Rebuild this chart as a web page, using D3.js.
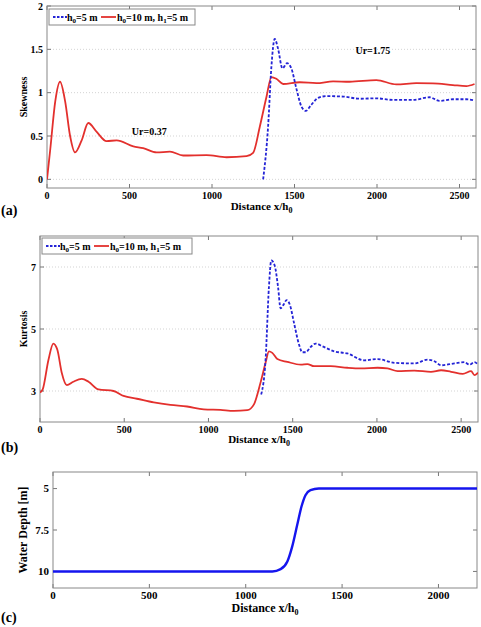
<!DOCTYPE html>
<html><head><meta charset="utf-8">
<script src="https://cdn.jsdelivr.net/npm/d3@7"></script>
<style>body{margin:0;background:#fff}svg{display:block}text{font-family:"Liberation Serif","Times New Roman",serif;font-weight:bold}</style>
</head><body><svg id="c" width="481" height="627"></svg>
<script>
// Skewness, h0=10 m, h1=5 m (red)
const skewRedX=[0,20,50,79,110,140,170,210,250,300,361,422,523,583,664,745,825,967,1088,1209,1249,1290,1330,1360,1390,1431,1532,1633,1734,1834,1996,2117,2238,2339,2460,2541,2591];
const skewRedY=[0,0.35,0.9,1.126,0.9,0.5,0.31,0.45,0.65,0.55,0.44,0.45,0.38,0.36,0.31,0.32,0.275,0.28,0.255,0.267,0.305,0.61,0.95,1.18,1.16,1.10,1.12,1.11,1.13,1.126,1.145,1.095,1.11,1.107,1.088,1.076,1.10];
// Skewness, h0=5 m (blue)
const skewBlueX=[1310,1340,1360,1380,1400,1427,1455,1481,1511,1542,1568,1602,1643,1693,1794,1895,1996,2097,2218,2319,2379,2460,2541,2591];
const skewBlueY=[0.0,0.61,1.30,1.62,1.51,1.28,1.34,1.28,1.05,0.84,0.79,0.86,0.94,0.96,0.955,0.93,0.935,0.916,0.916,0.947,0.905,0.924,0.924,0.91];
// Kurtosis red
const kurtRedX=[0,16,50,79,103,129,159,198,248,288,347,437,496,575,675,774,873,972,1071,1151,1230,1270,1309,1339,1359,1379,1409,1468,1548,1587,1627,1726,1825,1905,2004,2063,2123,2222,2321,2381,2440,2510,2559,2579,2600];
const kurtRedY=[2.95,3.05,4.0,4.53,4.33,3.59,3.19,3.30,3.39,3.30,3.05,3.0,2.84,2.75,2.63,2.55,2.50,2.41,2.39,2.36,2.38,2.57,3.27,3.91,4.28,4.23,4.03,3.94,3.85,3.87,3.80,3.80,3.75,3.73,3.75,3.73,3.64,3.66,3.62,3.67,3.62,3.55,3.64,3.51,3.59];
// Kurtosis blue
const kurtBlueX=[1313,1339,1359,1373,1393,1413,1428,1444,1464,1484,1508,1538,1557,1577,1607,1637,1677,1746,1825,1924,2004,2103,2222,2301,2341,2381,2460,2520,2549,2579,2600];
const kurtBlueY=[2.89,4.01,6.36,7.21,7.05,6.36,5.67,5.77,5.93,5.77,5.19,4.49,4.25,4.25,4.42,4.53,4.44,4.28,4.21,3.99,4.03,3.91,3.89,4.01,3.96,3.83,3.89,3.93,3.85,3.93,3.85];
// Water depth
const depthX=[0,500,1000,1138,1181,1216,1241,1267,1289,1310,1336,1379,1420,2200];
const depthY=[10,10,10,10,9.86,9.4,8.5,7.2,6.1,5.4,5.1,5.0,5.0,5.0];

const xTicksAB=[0,500,1000,1500,2000,2500];
const xTicksC=[0,500,1000,1500,2000];
const yTicksA=[0,0.5,1,1.5,2];
const yTicksB=[3,5,7];
const yTicksC=[5,7.5,10];

const RED="#e3302d", BLUE="#2424d6";
const svg=d3.select("#c");

function panel(o){
  const x=d3.scaleLinear().domain(o.xd).range([o.l,o.r]);
  const y=d3.scaleLinear().domain(o.yd).range([o.b,o.t]);
  const g=svg.append("g");
  if(o.grid){
    g.selectAll(".gl").data(o.yt.filter(v=>y(v)>o.t+1)).join("line")
      .attr("x1",o.l).attr("x2",o.r).attr("y1",d=>y(d)).attr("y2",d=>y(d))
      .attr("stroke","#c8c8c8").attr("stroke-width",0.8).attr("stroke-dasharray","1,2");
  }
  const tl=4;
  o.xt.forEach(v=>{
    g.append("line").attr("x1",x(v)).attr("x2",x(v)).attr("y1",o.b).attr("y2",o.b-tl).attr("stroke","#777");
    g.append("line").attr("x1",x(v)).attr("x2",x(v)).attr("y1",o.t).attr("y2",o.t+tl).attr("stroke","#777");
  });
  o.yt.forEach(v=>{
    g.append("line").attr("x1",o.l).attr("x2",o.l+tl).attr("y1",y(v)).attr("y2",y(v)).attr("stroke","#777");
    g.append("line").attr("x1",o.r).attr("x2",o.r-tl).attr("y1",y(v)).attr("y2",y(v)).attr("stroke","#777");
  });
  g.append("rect").attr("x",o.l).attr("y",o.t).attr("width",o.r-o.l).attr("height",o.b-o.t)
    .attr("fill","none").attr("stroke","#888").attr("stroke-width",1);
  const tfs=o.tfs||10;
  g.selectAll(".xl").data(o.xt).join("text").attr("x",d=>x(d)).attr("y",o.b+11)
    .attr("text-anchor","middle").attr("font-size",tfs).text(d=>d);
  g.selectAll(".yl").data(o.yt).join("text").attr("x",o.l-4).attr("y",d=>y(d)+3.5)
    .attr("text-anchor","end").attr("font-size",tfs).text(d=>d);
  const line=d3.line().x(d=>x(d[0])).y(d=>y(d[1])).curve(d3.curveMonotoneX);
  const clip="clip"+Math.random().toString(36).slice(2);
  svg.append("clipPath").attr("id",clip).append("rect").attr("x",o.l).attr("y",o.t).attr("width",o.r-o.l).attr("height",o.b-o.t);
  o.series.forEach(s=>{
    g.append("path").attr("d",line(d3.zip(s.x,s.y))).attr("fill","none")
      .attr("stroke",s.c).attr("stroke-width",s.w||1.8).attr("stroke-dasharray",s.dash||null)
      .attr("clip-path",`url(#${clip})`);
  });
  const xt=g.append("text").attr("x",(o.l+o.r)/2).attr("y",o.xty).attr("text-anchor","middle").attr("font-size",o.xtfs||11);
  xt.append("tspan").text("Distance x/h");
  xt.append("tspan").attr("font-size",8).attr("dy",3).text("0");
  g.append("text").attr("transform",`translate(${o.ytx},${(o.t+o.b)/2}) rotate(-90)`)
    .attr("text-anchor","middle").attr("font-size",o.ytfs||10.5).text(o.ytitle);
  g.append("text").attr("x",1).attr("y",o.laby).attr("font-size",14).text(o.lab);
  if(o.legend){
    const L=o.legend;
    g.append("rect").attr("x",L.x).attr("y",L.y).attr("width",L.w).attr("height",16)
      .attr("fill","#fff").attr("stroke","#888");
    const cy=L.y+8;
    g.append("line").attr("x1",L.x+4).attr("x2",L.x+18).attr("y1",cy).attr("y2",cy).attr("stroke",BLUE).attr("stroke-width",1.8).attr("stroke-dasharray","2.5,1.5");
    const t1=g.append("text").attr("x",L.x+18).attr("y",cy+3.5).attr("font-size",10);
    t1.append("tspan").text("h"); t1.append("tspan").attr("font-size",7).attr("dy",2.5).text("0");
    t1.append("tspan").attr("dy",-2.5).text("=5 m");
    g.append("line").attr("x1",L.x+52).attr("x2",L.x+67).attr("y1",cy).attr("y2",cy).attr("stroke",RED).attr("stroke-width",1.8);
    const t2=g.append("text").attr("x",L.x+68).attr("y",cy+3.5).attr("font-size",10);
    t2.append("tspan").text("h"); t2.append("tspan").attr("font-size",7).attr("dy",2.5).text("0");
    t2.append("tspan").attr("dy",-2.5).text("=10 m, h"); t2.append("tspan").attr("font-size",7).attr("dy",2.5).text("1");
    t2.append("tspan").attr("dy",-2.5).text("=5 m");
  }
  return {x,y,g};
}

const A=panel({l:47,r:476,t:6,b:188,xd:[0,2600],yd:[-0.1,2],xt:xTicksAB,yt:yTicksA,grid:true,
  series:[{x:skewRedX,y:skewRedY,c:RED},{x:skewBlueX,y:skewBlueY,c:BLUE,dash:"3,1.8"}],
  xty:210,ytx:27,ytitle:"Skewness",ytfs:10,lab:"(a)",laby:215,legend:{x:49,y:9,w:146}});
A.g.append("text").attr("x",A.x(620)).attr("y",A.y(0.5)-1).attr("text-anchor","middle").attr("font-size",10).text("Ur=0.37");
A.g.append("text").attr("x",A.x(1975)).attr("y",A.y(1.45)).attr("text-anchor","middle").attr("font-size",10).text("Ur=1.75");

panel({l:40,r:478,t:236,b:422,xd:[0,2600],yd:[2,8],xt:xTicksAB,yt:yTicksB,grid:true,
  series:[{x:kurtRedX,y:kurtRedY,c:RED},{x:kurtBlueX,y:kurtBlueY,c:BLUE,dash:"3,1.8"}],
  xty:443,ytx:27,ytitle:"Kurtosis",ytfs:10,lab:"(b)",laby:452,legend:{x:42,y:238,w:150}});

panel({l:53,r:477,t:472,b:588,xd:[0,2200],yd:[11,4],xt:xTicksC,yt:yTicksC,grid:false,tfs:11,xtfs:12,
  series:[{x:depthX,y:depthY,c:"#1515ee",w:2.4}],
  xty:612,ytx:27,ytitle:"Water Depth [m]",ytfs:12,lab:"(c)",laby:622});
</script></body></html>
